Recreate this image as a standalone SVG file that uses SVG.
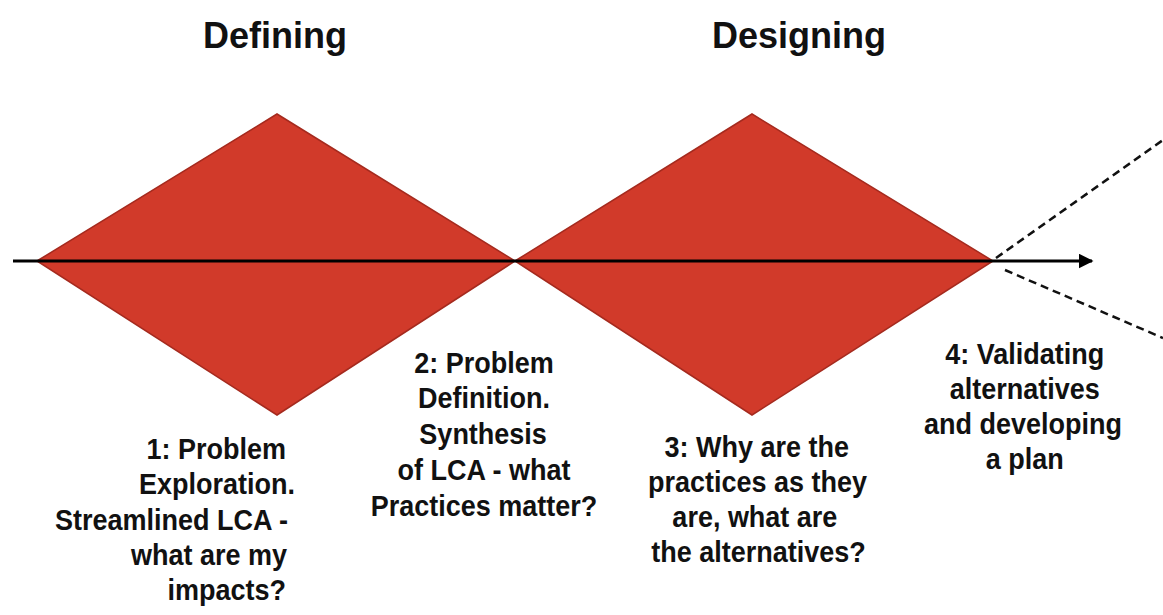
<svg xmlns="http://www.w3.org/2000/svg" width="1163" height="615" viewBox="0 0 1163 615">
<defs>
<style>
.dia{fill:#d13a2a;stroke:#a52a1e;stroke-width:1.5;stroke-linejoin:miter}
.title{font-family:"Liberation Sans",Arial,sans-serif;font-weight:bold;font-size:36px;fill:#111;text-anchor:middle}
.lbl{font-family:"Liberation Sans",Arial,sans-serif;font-weight:bold;font-size:29.5px;fill:#111}
.e{text-anchor:end}
.m{text-anchor:middle}
.axis{stroke:#000;stroke-width:3;fill:none}
.dash{stroke:#111;stroke-width:2.5;stroke-dasharray:8 5;fill:none}
</style>
<marker id="arr" viewBox="0 0 10 10" refX="9" refY="5" markerWidth="5" markerHeight="5" markerUnits="strokeWidth" orient="auto">
<path d="M0,0 L10,5 L0,10 Z" fill="#000"/>
</marker>
</defs>
<rect width="1163" height="615" fill="#fff"/>
<g id="title-defining"><text class="title" x="275" y="48">Defining</text></g>
<g id="title-designing"><text class="title" x="799" y="48">Designing</text></g>
<g id="diamond-1"><polygon class="dia" points="37,261 277,114 515,261 277,415"/></g>
<g id="diamond-2"><polygon class="dia" points="515,261 752,114 993,261 752,415"/></g>
<g id="connectors">
<line class="axis" x1="13" y1="261" x2="1092" y2="261" marker-end="url(#arr)"/>
<line class="dash" x1="996" y1="258" x2="1163" y2="140"/>
<line class="dash" x1="1005" y1="270" x2="1163" y2="338"/>
</g>
<g id="label-1" transform="scale(0.915,1)">
<text class="lbl e" x="312.6" y="459">1: Problem</text>
<text class="lbl e" x="322.4" y="494">Exploration.</text>
<text class="lbl e" x="314.8" y="530">Streamlined LCA -</text>
<text class="lbl e" x="313.7" y="565">what are my</text>
<text class="lbl e" x="312.6" y="600">impacts?</text>
</g>
<g id="label-2" transform="scale(0.915,1)">
<text class="lbl m" x="529" y="373">2: Problem</text>
<text class="lbl m" x="529" y="408">Definition.</text>
<text class="lbl m" x="528" y="444">Synthesis</text>
<text class="lbl m" x="529" y="480">of LCA - what</text>
<text class="lbl m" x="529" y="516">Practices matter?</text>
</g>
<g id="label-3" transform="scale(0.915,1)">
<text class="lbl m" x="827" y="457">3: Why are the</text>
<text class="lbl m" x="828" y="492">practices as they</text>
<text class="lbl m" x="825" y="527">are, what are</text>
<text class="lbl m" x="829" y="562">the alternatives?</text>
</g>
<g id="label-4" transform="scale(0.915,1)">
<text class="lbl m" x="1120" y="364">4: Validating</text>
<text class="lbl m" x="1120" y="399">alternatives</text>
<text class="lbl m" x="1118" y="434">and developing</text>
<text class="lbl m" x="1120" y="469">a plan</text>
</g>
</svg>
